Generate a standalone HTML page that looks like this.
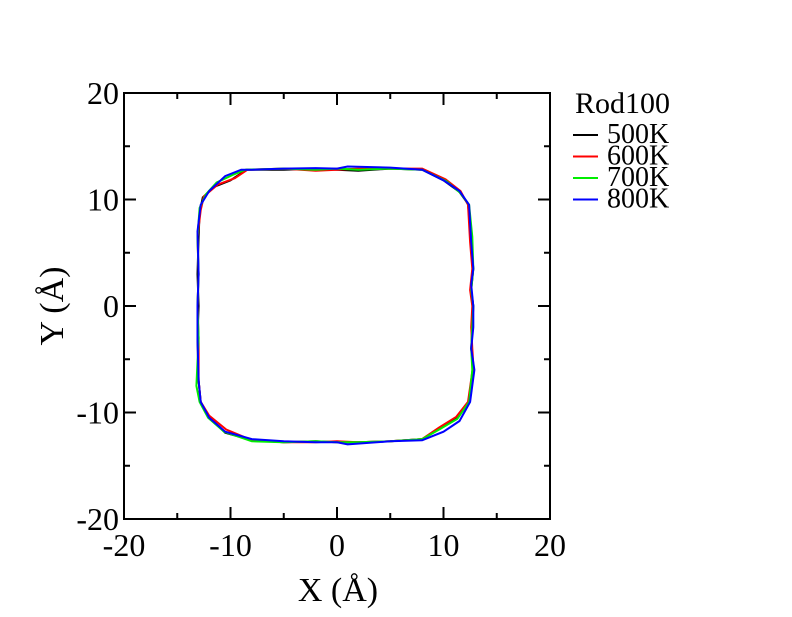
<!DOCTYPE html>
<html><head><meta charset="utf-8">
<style>
body{margin:0;background:#fff;}
svg text{font-family:"Liberation Serif",serif;fill:#000;}
</style></head>
<body>
<svg id="chart" width="792" height="612" viewBox="0 0 792 612" xmlns="http://www.w3.org/2000/svg">
<rect width="792" height="612" fill="#fff"/>
<g id="series"></g>
<rect x="124" y="93" width="426" height="426" fill="none" stroke="#000" stroke-width="2"/>
<g id="axes"></g>
<text x="338" y="601" font-size="34" text-anchor="middle">X (Å)</text>
<text transform="translate(63,306) rotate(-90)" font-size="34" text-anchor="middle">Y (Å)</text>
<g id="legend"></g>
</svg>
<script>
const xTicks=[-20,-10,0,10,20];
const yTicks=[-20,-10,0,10,20];
const seriesNames=["500K","600K","700K","800K"];
const seriesColors=["#000000","#ff0000","#00ee00","#0000ff"];
const legendTitle="Rod100";
const s500x=[-13,-13.1,-13,-13.1,-13,-12.9,-12.6,-11.5,-10,-8.5,-5,-2,0,2,5,8,10,11.5,12.3,12.6,12.8,12.6,12.8,12.7,12.6,12.8,12.4,11.2,9.5,8,5,2,0,-2,-5,-8,-10.5,-12,-12.8,-13];
const s500y=[-7,-3,0,3,6.5,8.8,10.2,11.2,11.8,12.8,12.8,12.9,12.8,12.7,12.9,12.8,11.8,10.7,9.6,6,3.5,1.5,0,-2,-4,-6,-9,-10.5,-11.5,-12.5,-12.7,-12.8,-12.8,-12.7,-12.8,-12.6,-11.9,-10.4,-9,-7];
const s600x=[-13,-13,-13.1,-13,-13.1,-12.8,-12.5,-11.2,-9.6,-8.4,-5,-2,0,2,5,8,10.2,11.6,12.3,12.5,12.7,12.5,12.7,12.6,12.7,12.8,12.3,11.2,9.6,8,5,2,0,-2,-5,-8,-10.4,-12,-12.8,-13];
const s600y=[-7,-3,0,3,6.5,9,10.3,11.4,12,12.8,12.9,12.7,12.8,12.9,12.9,12.9,11.9,10.8,9.5,6,3.5,1.5,0,-2,-4,-5.5,-9,-10.4,-11.4,-12.5,-12.7,-12.8,-12.7,-12.8,-12.8,-12.6,-11.6,-10.3,-9,-7];
const s700x=[-13.2,-13,-13.1,-13,-13.1,-12.9,-12.3,-11.3,-9.8,-8.6,-5,-2,0,2,5,8,10.3,11.6,12.4,12.7,12.8,12.6,12.8,12.7,12.6,12.7,12.4,11.3,9.6,8,5,2,0,-2,-5,-8,-10.6,-12.1,-12.9,-13.2];
const s700y=[-7.5,-3,0,3,6.5,9.2,10.5,11.6,12.3,12.8,12.9,12.8,12.9,12.8,12.9,12.8,11.7,10.6,9.5,6.5,3.5,1.5,0,-2,-4,-6,-9,-10.6,-11.6,-12.5,-12.7,-12.8,-12.8,-12.7,-12.8,-12.7,-11.8,-10.5,-9,-7.5];
const s800x=[-13,-13.1,-13.1,-13,-13.1,-12.8,-12,-10.5,-9,-8,-5,-2,0,1,5,8,10,11.5,12.4,12.6,12.8,12.6,12.8,12.8,12.6,12.9,12.5,11.5,10,8,5,1,0,-2,-5,-8,-10.5,-12,-12.8,-13];
const s800y=[-7,-3,0,3,7,9.5,10.8,12.2,12.8,12.8,12.9,12.95,12.9,13.1,13,12.8,11.8,10.8,9.5,6,3.5,2,0,-2,-4,-6,-9,-10.8,-11.8,-12.6,-12.7,-13,-12.8,-12.8,-12.7,-12.5,-11.8,-10.5,-9,-7];
const allX=[s500x,s600x,s700x,s800x];
const allY=[s500y,s600y,s700y,s800y];
const L=124,R=550,T=93,B=519,xmin=-20,xmax=20,ymin=-20,ymax=20;
const sx=v=>L+(v-xmin)/(xmax-xmin)*(R-L);
const sy=v=>B-(v-ymin)/(ymax-ymin)*(B-T);
const NS="http://www.w3.org/2000/svg";
const sg=document.getElementById('series');
allX.forEach((xs,i)=>{
  const ys=allY[i];
  let d=xs.map((x,j)=>(j?'L':'M')+sx(x).toFixed(1)+','+sy(ys[j]).toFixed(1)).join(' ')+' Z';
  const p=document.createElementNS(NS,'path');
  p.setAttribute('d',d);p.setAttribute('fill','none');p.setAttribute('stroke',seriesColors[i]);p.setAttribute('stroke-width','2');
  
  
  sg.appendChild(p);
});
const ax=document.getElementById('axes');
function line(x1,y1,x2,y2,name){const l=document.createElementNS(NS,'line');l.setAttribute('x1',x1);l.setAttribute('y1',y1);l.setAttribute('x2',x2);l.setAttribute('y2',y2);l.setAttribute('stroke','#000');l.setAttribute('stroke-width','2');


ax.appendChild(l);}
function text(x,y,s,anchor,name,size){const t=document.createElementNS(NS,'text');t.setAttribute('x',x);t.setAttribute('y',y);t.setAttribute('text-anchor',anchor);t.setAttribute('font-size',size||32);t.textContent=s;


return t;}
for(let v=xmin;v<=xmax;v+=5){const major=v%10===0;const len=major?12:6;
  line(sx(v),B,sx(v),B-len,'x-tick');line(sx(v),T,sx(v),T+len,'x-tick-top');
  line(L,sy(v),L+len,sy(v),'y-tick');line(R,sy(v),R-len,sy(v),'y-tick-right');}
xTicks.forEach(v=>ax.appendChild(text(sx(v),B+37,String(v),'middle','x-tick-label')));
yTicks.forEach(v=>ax.appendChild(text(L-5,sy(v)+11,String(v),'end','y-tick-label')));
const lg=document.getElementById('legend');
lg.appendChild(text(575,113,legendTitle,'start','legend-title',30));
seriesNames.forEach((n,i)=>{const y=143+i*21.5;
  const l=document.createElementNS(NS,'line');l.setAttribute('x1',573);l.setAttribute('x2',598);l.setAttribute('y1',y-8);l.setAttribute('y2',y-8);l.setAttribute('stroke',seriesColors[i]);l.setAttribute('stroke-width','2');
  
  
  lg.appendChild(l);
  lg.appendChild(text(607,y,n,'start','legend-entry',28));});
</script>
</body></html>
